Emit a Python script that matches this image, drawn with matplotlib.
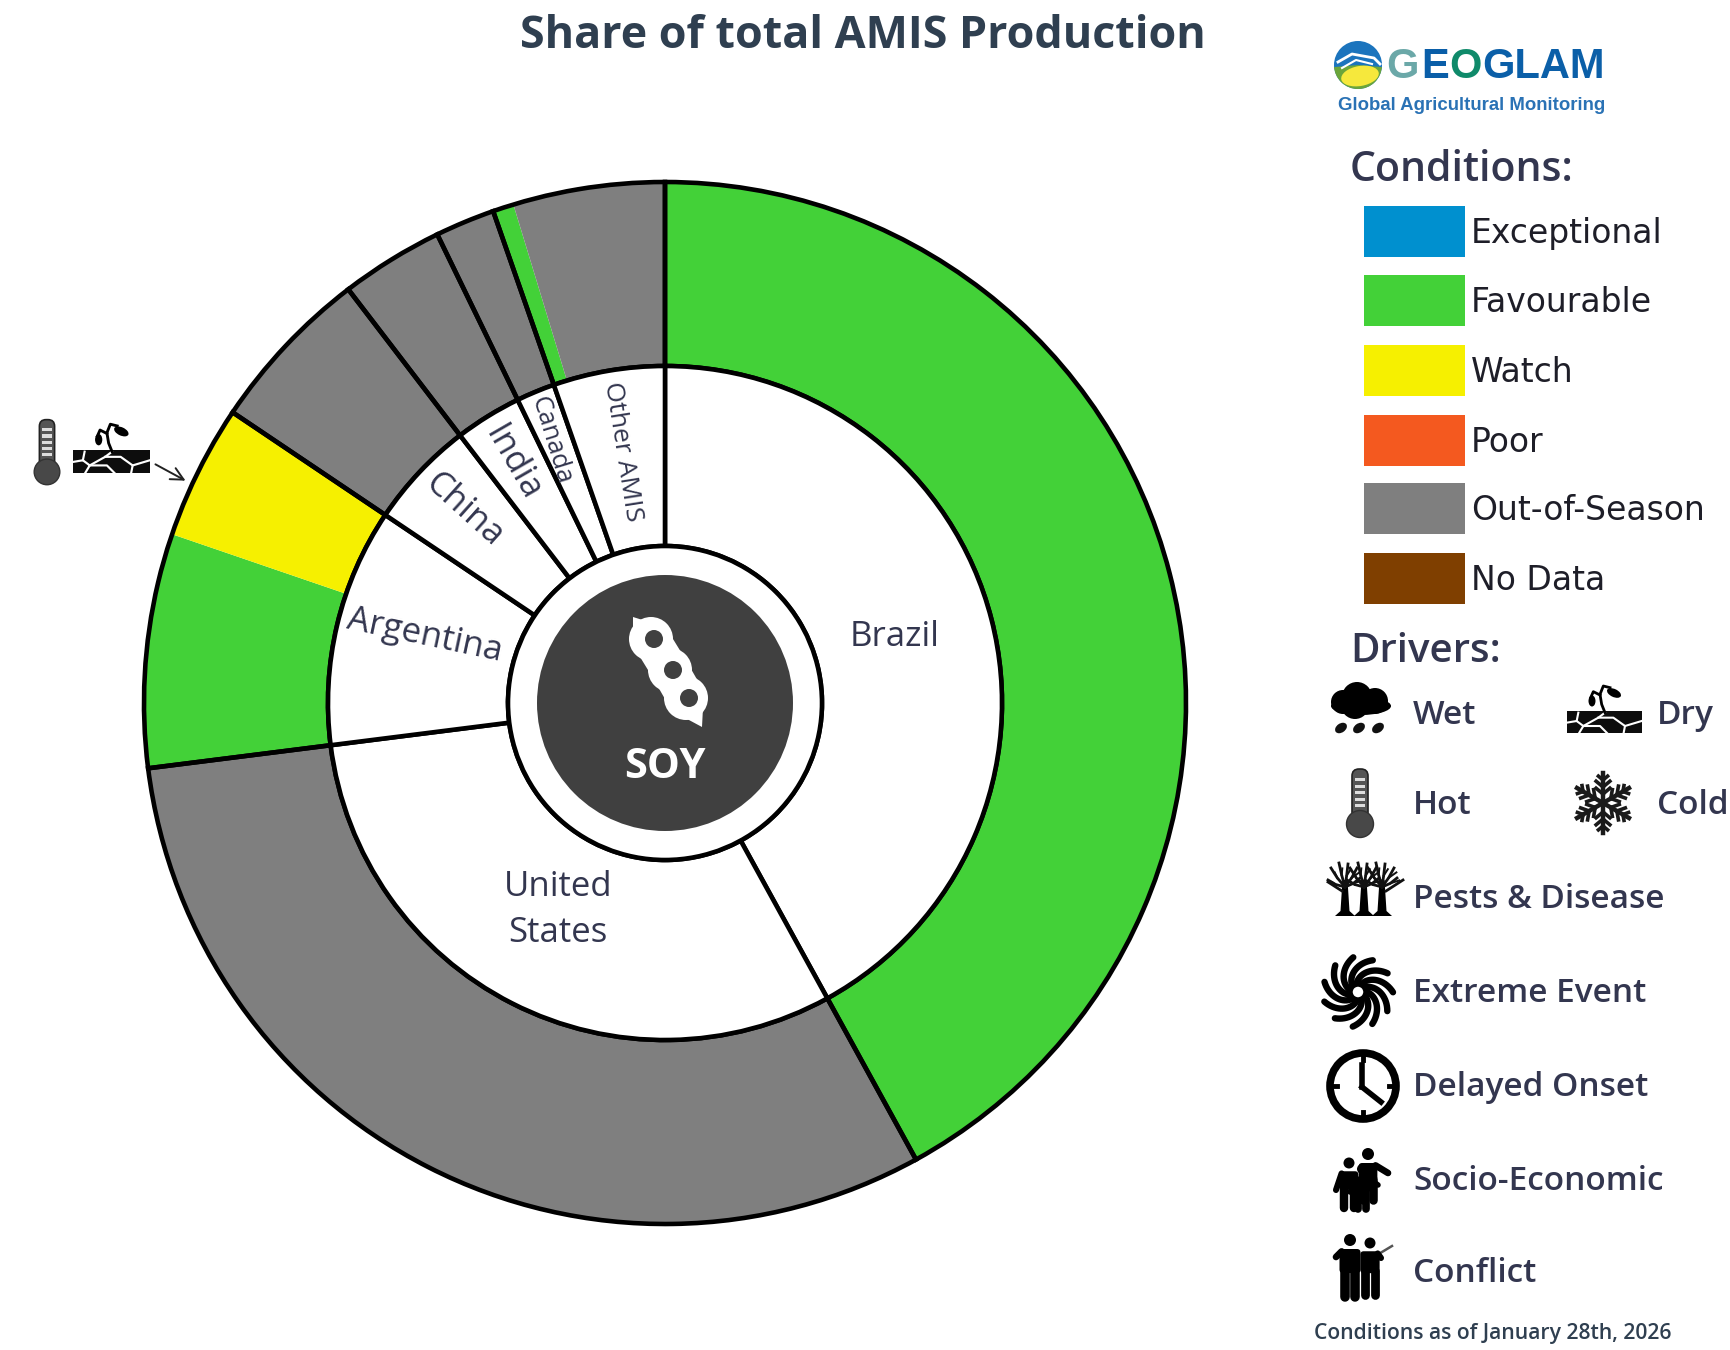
#! /usr/bin/env python
# -*- coding: utf-8 -*-
"""
plot.py

Share of total AMIS production, soy crop conditions.
"""

import numpy as np
import matplotlib
matplotlib.use('Agg')
import matplotlib.pyplot as plt
from matplotlib.patches import Circle, Rectangle, FancyBboxPatch, Ellipse, Wedge

_COUNTRIES = ['Brazil', 'United\nStates', 'Argentina', 'China', 'India',
              'Canada', 'Other AMIS']
_COUNTRY_SHARE = [42.0, 31.0, 11.42, 5.18, 3.2, 1.85, 5.35]

# outer ring: Brazil, US, Argentina (2), China, India, Canada, Other (2)
_RING_SHARE = [42.0, 31.0, 7.25, 4.17, 5.18, 3.2, 1.85, 0.65, 4.7]
_RING_STATE = ['Favourable', 'Out-of-Season', 'Favourable', 'Watch',
               'Out-of-Season', 'Out-of-Season', 'Out-of-Season',
               'Favourable', 'Out-of-Season']

_STATES = ['Exceptional', 'Favourable', 'Watch', 'Poor', 'Out-of-Season',
           'No Data']
_STATE_COLORS = ['#0090cf', '#43d138', '#f6f000', '#f4591f', '#7f7f7f',
                 '#7f3f00']

_DRIVERS = ['Wet', 'Hot', 'Pests & Disease', 'Extreme Event',
            'Delayed Onset', 'Socio-Economic', 'Conflict']
_DRIVERS_RIGHT = ['Dry', 'Cold']

WIDTH, HEIGHT = 1730, 1350
CX, CY = 665, 703
R_OUT, R_MID, R_IN, R_CORE = 521, 337, 157, 128
LW = 3.3
INK = '#33364f'
TITLE = '#2f3f50'

plt.rcParams['font.family'] = ['Open Sans', 'DejaVu Sans']


def thermometer(ax, x, y, s=1.0):
    """Thermometer icon centred on x, y (pixels)"""
    ax.add_patch(FancyBboxPatch(
        (x-8*s, y-33*s), 16*s, 50*s,
        boxstyle='round,pad=0,rounding_size=%f' % (7*s),
        fc='#555555', ec='#222222', lw=1.2))
    for k in range(5):
        ax.add_patch(Rectangle(
            (x-5*s, y+(-24+6.5*k)*s), 10*s, 3.4*s, fc='#dddddd', ec='none'))
    ax.add_patch(Circle((x, y+22*s), 13.5*s, fc='#484848', ec='#333333', lw=1))


def dry_soil(ax, x, y, s=1.0):
    """Cracked soil with a sprout, x is the middle, y the ground surface"""
    ax.add_patch(Rectangle((x-36*s, y-1*s), 75*s, 22*s, fc='#0d0d0d', ec='none'))
    cracks = [[(50, 155), (80, 150), (100, 165), (85, 190)],
              [(85, 125), (80, 150)],
              [(100, 165), (145, 140), (165, 125)],
              [(145, 140), (190, 140), (225, 165), (275, 150)],
              [(100, 165), (150, 165), (175, 190)],
              [(225, 165), (220, 190)]]
    for seg in cracks:
        pts = np.array(seg)/3.0
        ax.plot(x+(pts[:, 0]-53)*s, y+(pts[:, 1]-41)*s, color='white',
                lw=1.5*s)
    stem = np.array([(165, 125), (155, 100), (150, 70), (160, 45), (180, 50)])/3.0
    ax.plot(x+(stem[:, 0]-53)*s, y+(stem[:, 1]-41)*s, color='black', lw=2*s)
    curl = np.array([(150, 72), (130, 62), (122, 80)])/3.0
    ax.plot(x+(curl[:, 0]-53)*s, y+(curl[:, 1]-41)*s, color='black', lw=2*s)
    ax.add_patch(Ellipse((x-11*s, y-11*s), 7*s, 11*s, fc='black', ec='none'))
    ax.add_patch(Ellipse((x+11*s, y-19*s), 15*s, 8*s, angle=25, fc='black',
                         ec='none'))


def cloud(ax, x, y, s=1.0):
    """Rain cloud icon"""
    for dx, dy, r in [(-18, -10, 12), (-4, -15, 15), (14, -11, 13), (-6, -7, 14)]:
        ax.add_patch(Circle((x+dx*s, y+dy*s), r*s, fc='black', ec='none'))
    ax.add_patch(Ellipse((x, y-6*s), 60*s, 18*s, fc='black', ec='none'))
    for dx in (-20, -2, 17):
        ax.add_patch(Ellipse((x+dx*s, y+16*s), 13*s, 9*s, angle=-35,
                             fc='#111111', ec='none'))


def snowflake(ax, x, y, s=1.0):
    """Six armed snowflake icon"""
    for ang in np.deg2rad(np.arange(0, 360, 60)+90):
        ux, uy = np.cos(ang), np.sin(ang)
        ax.plot([x, x+30*s*ux], [y, y+30*s*uy], color='#1a1a1a', lw=3.2)
        for r, b in ((9, 9), (16, 9), (23, 6)):
            for sgn in (-1, 1):
                a2 = ang+sgn*np.deg2rad(50)
                ax.plot([x+r*s*ux, x+r*s*ux+b*s*np.cos(a2)],
                        [y+r*s*uy, y+r*s*uy+b*s*np.sin(a2)],
                        color='#1a1a1a', lw=2.6)


def trees(ax, x, y, s=1.0):
    """Three bare trees icon"""
    for dx in (-19, 0, 18):
        ax.fill([x+(dx-2.5)*s, x+(dx+2.5)*s, x+(dx+4.5)*s, x+(dx+10)*s,
                 x+(dx-10)*s, x+(dx-4.5)*s],
                [y-10*s, y-10*s, y+21*s, y+26*s, y+26*s, y+21*s],
                color='black', lw=0)
        tips = [(-14, -22), (-6, -27), (3, -26), (12, -22), (-17, -10), (15, -12)]
        for bx, by in tips:
            ax.plot([x+dx*s, x+(dx+bx*0.55)*s, x+(dx+bx)*s],
                    [y-3*s, y+(by*0.55)*s, y+by*s], color='#111111', lw=2.0)
            ax.plot([x+(dx+bx*0.55)*s, x+(dx+bx*0.95+3)*s],
                    [y+(by*0.55)*s, y+(by*0.8)*s], color='#111111', lw=1.4)
    ax.plot([x+22*s, x+39*s], [y+1*s, y-10*s], color='#111111', lw=2.0)
    ax.plot([x-22*s, x-36*s], [y+1*s, y-8*s], color='#111111', lw=2.0)


def cyclone(ax, x, y, s=1.0):
    """Spiral storm icon"""
    for a0 in np.deg2rad(np.arange(0, 360, 360.0/11)):
        t = np.linspace(0.0, 1.0, 20)
        r = (9+26*t)*s
        a = a0+1.15*t
        ax.plot(x+r*np.cos(a), y+r*np.sin(a), color='black',
                lw=4.6, solid_capstyle='round')
    ax.add_patch(Circle((x, y), 7*s, fc='white', ec='black', lw=2.5, zorder=4))


def clock(ax, x, y, s=1.0):
    """Clock icon"""
    ax.add_patch(Circle((x, y), 33*s, fc='white', ec='black', lw=5.5))
    for ang in np.deg2rad([0, 90, 180, 270]):
        ax.plot([x+26*s*np.cos(ang), x+32*s*np.cos(ang)],
                [y+26*s*np.sin(ang), y+32*s*np.sin(ang)], color='black', lw=3.5)
    ax.plot([x-1*s, x-1*s], [y-21*s, y+1*s], color='black', lw=4)
    ax.plot([x-1*s, x+18*s], [y+1*s, y+16*s], color='black', lw=4)


def person(ax, x, head_y, foot_y, r, arms, wide=1.0, halo=False):
    """Person silhouette, arms are hand positions (pixels)"""
    body = foot_y-head_y
    hip = head_y+body*0.58
    shoulder = head_y+r*1.5
    if halo:
        ax.plot([x, x], [shoulder, foot_y], color='white', lw=r*3.6, zorder=3)
    ax.add_patch(Circle((x, head_y), r, fc='black', ec='none', zorder=4))
    ax.add_patch(FancyBboxPatch(
        (x-r*1.25*wide, shoulder), r*2.5*wide, hip-shoulder,
        boxstyle='round,pad=0,rounding_size=%f' % (r*0.6), fc='black', ec='none',
        zorder=4))
    for sgn in (-1, 1):
        ax.plot([x+sgn*r*0.62*wide]*2, [hip-2, foot_y], color='black',
                lw=r*0.82*wide, solid_capstyle='round', zorder=4)
    for hand in arms:
        sgn = -1 if hand[0] < x else 1
        ax.plot([x+sgn*r*1.0*wide, hand[0]], [shoulder+r*0.4, hand[1]],
                color='black', lw=r*0.8, solid_capstyle='round', zorder=4)


def soy_pod(ax, col):
    """The white pod on the dark core"""
    seeds = np.array([(654, 639), (673, 670), (689, 698)], dtype=float)
    body = seeds+np.array([-3.0, 0.0])
    tips = [((633, 617), body[0]), ((702, 727), body[2])]
    dirn = np.array([0.51, 0.86])
    nrm = np.array([dirn[1], -dirn[0]])
    for c in body:
        ax.add_patch(Circle(c, 22, fc='white', ec='none'))
    ax.plot(body[:, 0], body[:, 1], color='white', lw=27, solid_capstyle='butt')
    for tip, base in tips:
        ax.fill([tip[0], base[0]+nrm[0]*21, base[0]-nrm[0]*21],
                [tip[1], base[1]+nrm[1]*21, base[1]-nrm[1]*21],
                color='white', lw=0)
    for s in seeds:
        ax.add_patch(Circle(s, 9, fc=col, ec='none', zorder=4))


def main():
    fig = plt.figure(figsize=(WIDTH/100.0, HEIGHT/100.0), dpi=100)
    #
    # Donut: outer ring of conditions, inner ring of countries
    #
    half = R_OUT+20
    ax = fig.add_axes([(CX-half)/WIDTH, 1.0-(CY+half)/HEIGHT,
                       2*half/WIDTH, 2*half/HEIGHT])
    ax.set_xlim(-half, half)
    ax.set_ylim(-half, half)
    colors = [_STATE_COLORS[_STATES.index(s)] for s in _RING_STATE]
    ax.pie(_RING_SHARE, colors=colors, radius=R_OUT, startangle=90,
           counterclock=False, frame=False,
           wedgeprops={'width': R_OUT-R_MID, 'linewidth': 0})
    ax.pie(_COUNTRY_SHARE, colors=['none']*7, radius=R_OUT, startangle=90,
           counterclock=False, frame=False,
           wedgeprops={'width': R_OUT-R_MID, 'linewidth': LW,
                       'edgecolor': 'black'})
    ax.pie(_COUNTRY_SHARE, colors=['white']*7, radius=R_MID, startangle=90,
           counterclock=False, frame=False,
           wedgeprops={'width': R_MID-R_IN, 'linewidth': LW,
                       'edgecolor': 'black'})
    ax.set_xlim(-half, half)
    ax.set_ylim(-half, half)
    ax.set_aspect('equal')
    ax.add_patch(Circle((0, 0), R_IN, fc='white', ec='black', lw=LW, zorder=5))
    ax.add_patch(Circle((0, 0), R_CORE, fc='#404040', ec='none', zorder=6))
    ax.axis('off')
    #
    # Everything else sits on an overlay in image pixels
    #
    ov = fig.add_axes([0, 0, 1, 1], facecolor='none')
    ov.set_xlim(0, WIDTH)
    ov.set_ylim(HEIGHT, 0)
    ov.axis('off')

    ov.text(863, 37, 'Share of total AMIS Production', ha='center', va='center',
            fontsize=32.3, fontweight='bold', color=TITLE)
    #
    # Country labels
    #
    label_pos = [(895, 637, 0, 25), (558, 910, 0, 25), (425, 636, -12, 25),
                 (464, 510, -42, 25), (513, 463, -60, 25), (551, 440, -73, 18.5),
                 (622, 452, -81, 19)]
    for name, (x, y, rot, size) in zip(_COUNTRIES, label_pos):
        ov.text(x, y, name, ha='center', va='center', rotation=rot,
                rotation_mode='anchor', fontsize=size, color=INK,
                linespacing=1.5)
    #
    # Centre of the donut
    #
    soy_pod(ov, '#404040')
    ov.text(665, 767, 'SOY', ha='center', va='center', fontsize=30,
            fontweight='bold', color='white')
    #
    # Note on Argentina
    #
    thermometer(ov, 47, 451, 0.95)
    dry_soil(ov, 110, 451, 1.03)
    ov.annotate('', xy=(188, 482), xytext=(153, 463),
                arrowprops={'arrowstyle': '->,head_length=0.9,head_width=0.45',
                            'color': '#222222', 'lw': 1.4})
    #
    # Logo
    #
    ov.add_patch(Circle((1358, 65), 24, fc='#1b74bd', ec='none'))
    ov.add_patch(Wedge((1358, 65), 24, 5, 175, fc='#6ba53a', ec='none'))
    ov.add_patch(Ellipse((1360, 76), 38, 20, angle=-10, fc='#f6e83c', ec='none'))
    ov.plot([1338, 1352, 1374, 1380], [62, 54, 58, 64], color='white', lw=2)
    ov.plot([1342, 1356, 1372], [68, 60, 64], color='white', lw=1.5)
    letters = [('G', 1386, '#6ba8a8'), ('E', 1421, '#0a5ea8'),
               ('O', 1449, '#0f8a6a'), ('GLAM', 1482, '#0b5fa8')]
    for char, x, col in letters:
        ov.text(x, 67, char, ha='left', va='center', fontsize=30,
                fontweight='bold', color=col, family='Liberation Sans')
    ov.text(1338, 105, 'Global Agricultural Monitoring', ha='left', va='center',
            fontsize=13.4, fontweight='bold', color='#2a72b5',
            family='Liberation Sans')
    #
    # Conditions legend
    #
    ov.text(1350, 170, 'Conditions:', ha='left', va='center', fontsize=29.5,
            fontweight='semibold', color=INK)
    box_top = [206, 275, 345, 415, 483, 553]
    for state, col, top in zip(_STATES, _STATE_COLORS, box_top):
        ov.add_patch(Rectangle((1364, top), 101, 51, fc=col, ec='none'))
        ov.text(1471, top+27, state, ha='left', va='center', fontsize=23.8,
                color='#1e1e28', family='DejaVu Sans')
    #
    # Drivers legend
    #
    ov.text(1350, 652, 'Drivers:', ha='left', va='center', fontsize=29,
            fontweight='semibold', color=INK)
    driver_y = [715, 806, 900, 994, 1088, 1181, 1273]
    for name, y in zip(_DRIVERS, driver_y):
        ov.text(1413, y, name, ha='left', va='center', fontsize=24,
                fontweight='semibold', color=INK)
    for name, y in zip(_DRIVERS_RIGHT, driver_y):
        ov.text(1657, y, name, ha='left', va='center', fontsize=24,
                fontweight='semibold', color=INK)
    cloud(ov, 1361, 712)
    dry_soil(ov, 1603, 712)
    thermometer(ov, 1360, 802)
    snowflake(ov, 1603, 803)
    trees(ov, 1364, 890)
    cyclone(ov, 1358, 992)
    clock(ov, 1363, 1086)
    # Socio-Economic family
    person(ov, 1368, 1154, 1200, 6, [(1388, 1173)], wide=1.25)
    person(ov, 1349, 1163, 1208, 5.5, [(1336, 1190)], wide=1.35)
    person(ov, 1362, 1169, 1209, 5, [(1378, 1185), (1350, 1192)], wide=1.35,
           halo=True)
    # Conflict pair
    person(ov, 1350, 1240, 1297, 6, [(1336, 1257)], wide=1.4)
    person(ov, 1370, 1243, 1295, 5.5, [(1381, 1258)], wide=1.4)
    ov.plot([1377, 1392], [1255, 1246], color='#555555', lw=1.8)

    ov.text(1493, 1334, 'Conditions as of January 28th, 2026', ha='center',
            va='center', fontsize=15.2, fontweight='semibold', color=TITLE)

    fig.savefig('out.png', dpi=100, facecolor='white')
    plt.close(fig)


if __name__ == "__main__":
    main()
